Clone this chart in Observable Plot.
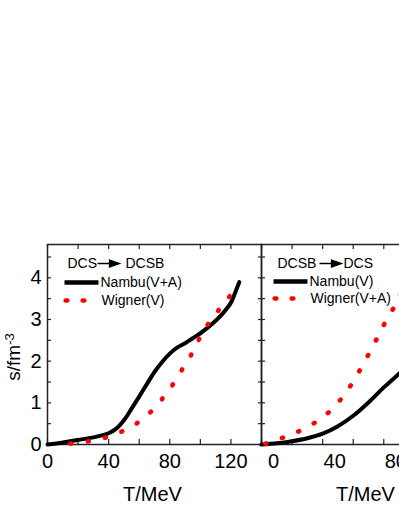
<!DOCTYPE html>
<html><head><meta charset="utf-8">
<script src="https://cdn.jsdelivr.net/npm/d3@7"></script>
<script src="https://cdn.jsdelivr.net/npm/@observablehq/plot@0.6"></script>
<style>
html,body{margin:0;padding:0;background:#fff;width:399px;height:516px;overflow:hidden;}
#wrap{position:relative;width:399px;height:516px;overflow:hidden;font-family:"Liberation Sans",Arial,sans-serif;}
.panel{position:absolute;top:234px;}
#ylab{position:absolute;left:-36px;top:346px;width:100px;height:22px;line-height:22px;text-align:center;font-size:19px;white-space:nowrap;transform:rotate(-90deg);transform-origin:50% 50%;color:#000;}
#ylab span{position:relative;top:-0.45em;font-size:13px;}
</style></head>
<body><div id="wrap">
<div id="left" class="panel" style="left:0px;width:271px"></div>
<div id="right" class="panel" style="left:251px;width:234px"></div>
<div id="ylab">s/fm<span>-3</span></div>
</div>
<script>
// ---- ticks ----
const xTicks = [0, 20, 40, 60, 80, 100, 120, 140];
const xTickLabels = [0, 40, 80, 120];
const yTicks = [0, 0.5, 1, 1.5, 2, 2.5, 3, 3.5, 4, 4.5];
const yTickLabels = [0, 1, 2, 3, 4];
const xLabel = "T/MeV";

// ---- left panel: DCS -> DCSB ----
const leftTitle = ["DCS", "DCSB"];
const leftNames = ["Nambu(V+A)", "Wigner(V)"];
const leftNambuT = [0, 10, 20, 30, 40, 45, 50, 55, 60, 65, 70, 75, 80, 85, 90, 95, 100, 105, 110, 115, 120, 122.5, 125.5];
const leftNambuS = [0, 0.05, 0.11, 0.17, 0.27, 0.38, 0.58, 0.86, 1.15, 1.45, 1.74, 1.98, 2.18, 2.33, 2.43, 2.55, 2.67, 2.81, 2.97, 3.16, 3.4, 3.62, 3.9];
const leftWignerT = [10, 15, 26, 37.5, 48.5, 58.5, 68, 75.6, 82.2, 88.1, 93.8, 99.2, 105.4, 112.3, 119.5, 121];
const leftWignerS = [0.01, 0.02, 0.07, 0.16, 0.31, 0.51, 0.80, 1.12, 1.45, 1.80, 2.14, 2.53, 2.91, 3.24, 3.57, 3.63];

// ---- right panel: DCSB -> DCS ----
const rightTitle = ["DCSB", "DCS"];
const rightNames = ["Nambu(V)", "Wigner(V+A)"];
const rightNambuT = [0, 10, 20, 30, 40, 50, 60, 70, 80, 90, 95];
const rightNambuS = [0, 0.03, 0.08, 0.15, 0.26, 0.44, 0.69, 1.01, 1.37, 1.70, 1.88];
const rightWignerT = [0, 2.6, 13.6, 24, 34.3, 44.2, 51.8, 58.4, 64.3, 69.7, 75.2, 80.2, 85.7, 90, 95];
const rightWignerS = [0, 0.02, 0.16, 0.31, 0.51, 0.78, 1.08, 1.42, 1.78, 2.14, 2.52, 2.88, 3.23, 3.52, 3.85];

const zip = (T, S) => T.map((t, i) => ({T: t, s: S[i]}));

const lineSym = {draw(ctx) { ctx.moveTo(-17, 0); ctx.lineTo(17, 0); }};
const dotSym = {draw(ctx) { ctx.moveTo(-0.8, 0); ctx.lineTo(0.8, 0); }};
const arrowSym = {draw(ctx) {
  ctx.moveTo(-12, 0); ctx.lineTo(2, 0);
  ctx.moveTo(0, -3.5); ctx.lineTo(10, 0); ctx.lineTo(0, 3.5); ctx.closePath();
}};

function panel(o) {
  const FA = "top-left";
  const lg = o.legend;
  const marks = [
    Plot.frame({stroke: "#222", strokeWidth: 1.5}),
    Plot.axisX(xTicks, {anchor: "bottom", tickSize: 5, dy: -5, tickFormat: () => "", label: null, stroke: "#222", strokeWidth: 1.2}),
    Plot.axisX(xTicks, {anchor: "top", tickSize: 4, dy: 4, tickFormat: () => "", label: null, stroke: "#222", strokeWidth: 1.2}),
    Plot.axisY(yTicks, {anchor: "left", tickSize: 4, dx: 4, tickFormat: () => "", label: null, stroke: "#222", strokeWidth: 1.2}),
    Plot.axisY(yTicks, {anchor: "right", tickSize: 4, dx: -4, tickFormat: () => "", label: null, stroke: "#222", strokeWidth: 1.2}),
    Plot.axisX(xTickLabels, {anchor: "bottom", tickSize: 0, tickPadding: 9, dx: o.labelDx, label: null, fontSize: 20, fill: "#000"}),
    Plot.text([xLabel], {frameAnchor: "bottom", dy: 56, dx: o.titleDx, lineAnchor: "bottom", text: d => d, fontSize: 20, fill: "#000"}),
    Plot.line(zip(o.nT, o.nS), {x: "T", y: "s", stroke: "#000", strokeWidth: 4, curve: "catmull-rom"}),
    Plot.line(zip(o.wT, o.wS), {x: "T", y: "s", stroke: "#ff0000", strokeWidth: 4.6, strokeLinecap: "round", strokeDasharray: "1 16.5", strokeDashoffset: o.dashOffset, curve: "catmull-rom"}),
    // legend
    Plot.text([o.title[0]], {frameAnchor: FA, dx: lg.t1, dy: 19, text: d => d, textAnchor: "start", lineAnchor: "middle", fontSize: 14, fill: "#000"}),
    Plot.dot([0], {frameAnchor: FA, dx: lg.arrow, dy: 19, symbol: arrowSym, fill: "#000", stroke: "#000", strokeWidth: 1.3}),
    Plot.text([o.title[1]], {frameAnchor: FA, dx: lg.t2, dy: 19, text: d => d, textAnchor: "start", lineAnchor: "middle", fontSize: 14, fill: "#000"}),
    Plot.dot([0], {frameAnchor: FA, dx: lg.line, dy: lg.y1, symbol: lineSym, fill: "none", stroke: "#000", strokeWidth: 4.5}),
    Plot.text([o.names[0]], {frameAnchor: FA, dx: lg.name, dy: lg.y1, text: d => d, textAnchor: "start", lineAnchor: "middle", fontSize: 14, fill: "#000"}),
    ...lg.dots.map(dx => Plot.dot([0], {frameAnchor: FA, dx, dy: lg.y2, symbol: dotSym, fill: "none", stroke: "#ff0000", strokeWidth: 4.6, strokeLinecap: "round"})),
    Plot.text([o.names[1]], {frameAnchor: FA, dx: lg.name2, dy: lg.y2, text: d => d, textAnchor: "start", lineAnchor: "middle", fontSize: 14, fill: "#000"})
  ];
  if (o.showY) marks.push(Plot.axisY(yTickLabels, {anchor: "left", tickSize: 0, tickPadding: 6, label: null, fontSize: 20, fill: "#000"}));
  return Plot.plot({
    width: o.width, height: 282,
    marginLeft: o.marginLeft, marginRight: o.marginRight, marginTop: 10, marginBottom: 72,
    x: {domain: [0, 140], label: null},
    y: {domain: [0, 4.8], label: null},
    style: {maxWidth: "none", background: "transparent", overflow: "visible", fontFamily: "'Liberation Sans', Arial, sans-serif", fontSize: "20px", color: "#000"},
    marks
  });
}

const leftPlot = panel({
  width: 271, marginLeft: 47, marginRight: 10, showY: true, labelDx: 0, titleDx: -2, dashOffset: 9.8,
  nT: leftNambuT, nS: leftNambuS, wT: leftWignerT, wS: leftWignerS,
  title: leftTitle, names: leftNames,
  legend: {t1: 20, arrow: 62, t2: 78, line: 34, y1: 38, name: 53, dots: [19, 36], y2: 56, name2: 54}
});
const rightPlot = panel({
  width: 234, marginLeft: 10, marginRight: 10, showY: false, labelDx: 12, titleDx: -3, dashOffset: 13.5,
  nT: rightNambuT, nS: rightNambuS, wT: rightWignerT, wS: rightWignerS,
  title: rightTitle, names: rightNames,
  legend: {t1: 16, arrow: 70, t2: 82, line: 29, y1: 37, name: 48, dots: [14, 31], y2: 54, name2: 49}
});
document.getElementById("left").append(leftPlot);
document.getElementById("right").append(rightPlot);
</script>
</body></html>
